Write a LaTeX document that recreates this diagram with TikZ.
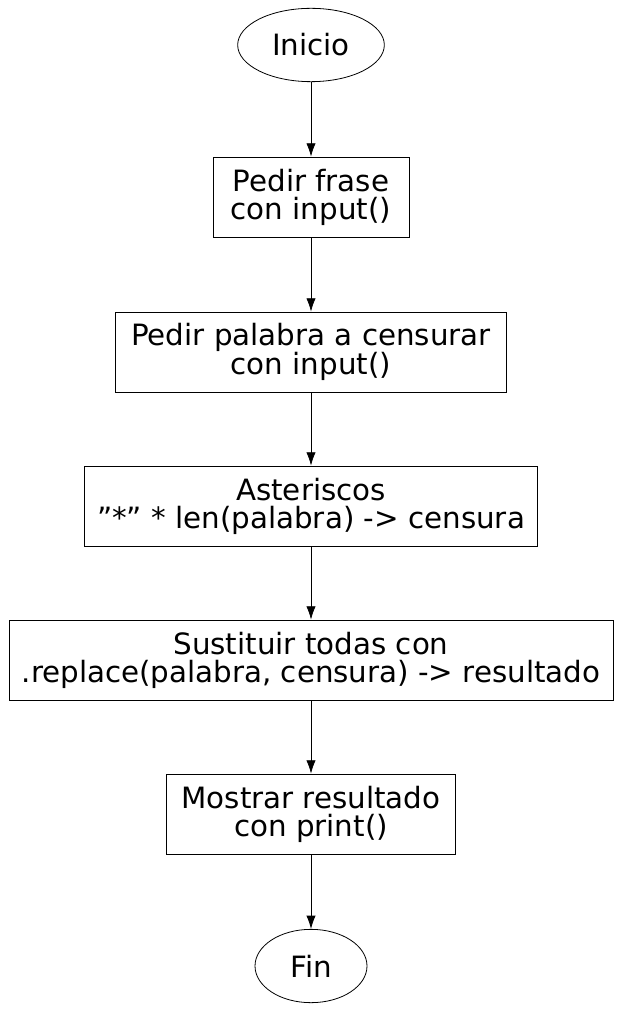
\documentclass[tikz,border=0pt]{standalone}
\usepackage{fontspec}
\setmainfont{DejaVu Sans}
\usetikzlibrary{shapes.geometric, arrows.meta}

\begin{document}
\begin{tikzpicture}[x=0.75pt, y=-0.75pt,
    term/.style={ellipse, draw, semithick, minimum height=55pt, inner sep=0pt, font=\fontsize{22}{21}\selectfont},
    proc/.style={rectangle, draw, semithick, minimum height=60pt, inner sep=0pt, align=center, font=\fontsize{22}{21}\selectfont},
    flow/.style={-{Latex[length=10pt, width=7pt]}, semithick},
]
\useasboundingbox (0,0) rectangle (621,1012);
% start and steps
\node[term, minimum width=110pt] (inicio) at (311,45) {Inicio};
\node[proc, minimum width=147pt] (frase) at (311,197) {Pedir frase\\con input()};
\node[proc, minimum width=293pt] (palabra) at (311,352) {Pedir palabra a censurar\\con input()};
\node[proc, minimum width=340pt] (aster) at (311,506) {Asteriscos\\\symbol{34}*\symbol{34} * len(palabra) -> censura};
\node[proc, minimum width=453pt] (sust) at (311,660) {Sustituir todas con\\.replace(palabra, censura) -> resultado};
\node[proc, minimum width=217pt] (mostrar) at (311,814) {Mostrar resultado\\con print()};
\node[term, minimum width=84pt] (fin) at (311,966) {Fin};

\draw[flow] (inicio) -- (frase);
\draw[flow] (frase) -- (palabra);
\draw[flow] (palabra) -- (aster);
\draw[flow] (aster) -- (sust);
\draw[flow] (sust) -- (mostrar);
\draw[flow] (mostrar) -- (fin);
\end{tikzpicture}
\end{document}
